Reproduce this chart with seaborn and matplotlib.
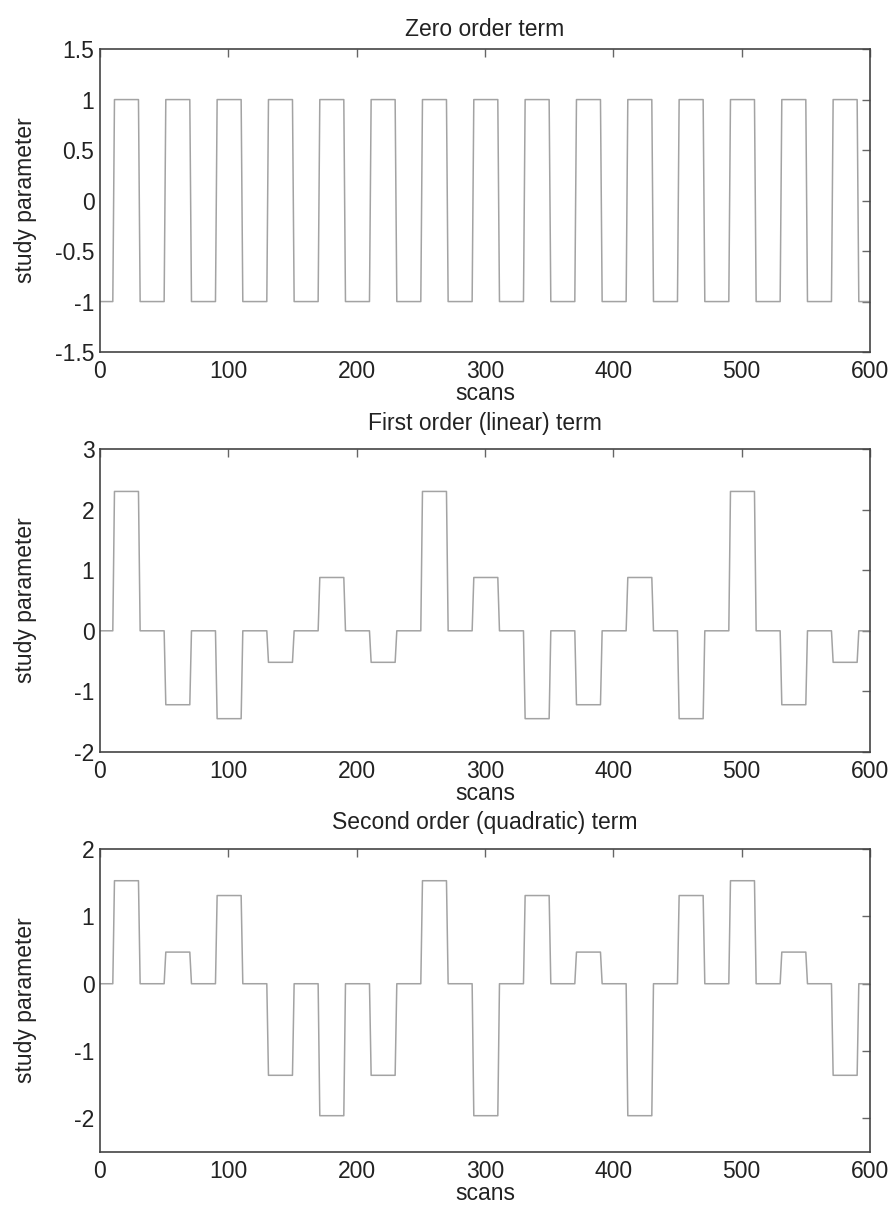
import numpy as np
import matplotlib
matplotlib.use("Agg")
import matplotlib.pyplot as plt
import seaborn as sns

# block design: 15 blocks of 20 scans, onset every 40 scans
block_onsets = [10, 50, 90, 130, 170, 210, 250, 290, 330, 370, 410, 450, 490, 530, 570]
block_len = 20
ramp = 1.3
n_scans = 600

# amplitude of each block per regressor
zero_order = [1, 1, 1, 1, 1, 1, 1, 1, 1, 1, 1, 1, 1, 1, 1]
first_order = [2.30, -1.22, -1.45, -0.52, 0.88, -0.52, 2.30, 0.88,
               -1.45, -1.22, 0.88, -1.45, 2.30, -1.22, -0.52]
second_order = [1.53, 0.47, 1.31, -1.36, -1.96, -1.36, 1.53, -1.96,
                1.31, 0.47, -1.96, 1.31, 1.53, 0.47, -1.36]
baselines = [-1, 0, 0]

titles = ["Zero order term", "First order (linear) term", "Second order (quadratic) term"]
ylims = [(-1.5, 1.5), (-2, 3), (-2.5, 2)]
yticks = [[-1.5, -1, -0.5, 0, 0.5, 1, 1.5], [-2, -1, 0, 1, 2, 3], [-2, -1, 0, 1, 2]]
title_pads = [9.7, 13.7, 14.4]


def block_trace(amps, base):
    xs = [0]
    ys = [base]
    for on, a in zip(block_onsets, amps):
        xs += [on, on + ramp, on + block_len, on + block_len + ramp]
        ys += [base, a, a, base]
    xs.append(n_scans)
    ys.append(base)
    return np.array(xs), np.array(ys)


sns.set_style("white")
plt.rcParams["font.family"] = ["Liberation Sans", "DejaVu Sans"]
plt.rcParams["axes.unicode_minus"] = False

fs = 16.5
fig = plt.figure(figsize=(8.91, 12.09), dpi=100)
bottoms = [0.7088, 0.378, 0.0471]

for i, amps in enumerate([zero_order, first_order, second_order]):
    ax = fig.add_axes([0.1122, bottoms[i], 0.8642, 0.2506])
    x, y = block_trace(amps, baselines[i])
    sns.lineplot(x=x, y=y, ax=ax, color="#a3a3a3", linewidth=1.1,
                 estimator=None, sort=False)
    ax.set_xlim(0, n_scans)
    ax.set_ylim(*ylims[i])
    ax.set_xticks([0, 100, 200, 300, 400, 500, 600])
    ax.set_yticks(yticks[i])
    ax.yaxis.set_major_formatter(matplotlib.ticker.FormatStrFormatter("%g"))
    ax.tick_params(direction="in", top=True, right=True, length=5.5,
                   width=1, color="#666666", labelsize=fs, labelcolor="#222222")
    ax.tick_params(axis="x", pad=6)
    ax.tick_params(axis="y", pad=4)
    for s in ax.spines.values():
        s.set_color("#444444")
        s.set_linewidth(1.2)
    ax.set_title(titles[i], fontsize=fs, pad=title_pads[i], color="#222222")
    ax.set_xlabel("scans", fontsize=fs, labelpad=-1, color="#222222")
    ax.set_ylabel("study parameter", fontsize=fs, color="#222222")
    ax.yaxis.set_label_coords(-0.082, 0.5)

fig.savefig("out.png", dpi=100, facecolor="white")
